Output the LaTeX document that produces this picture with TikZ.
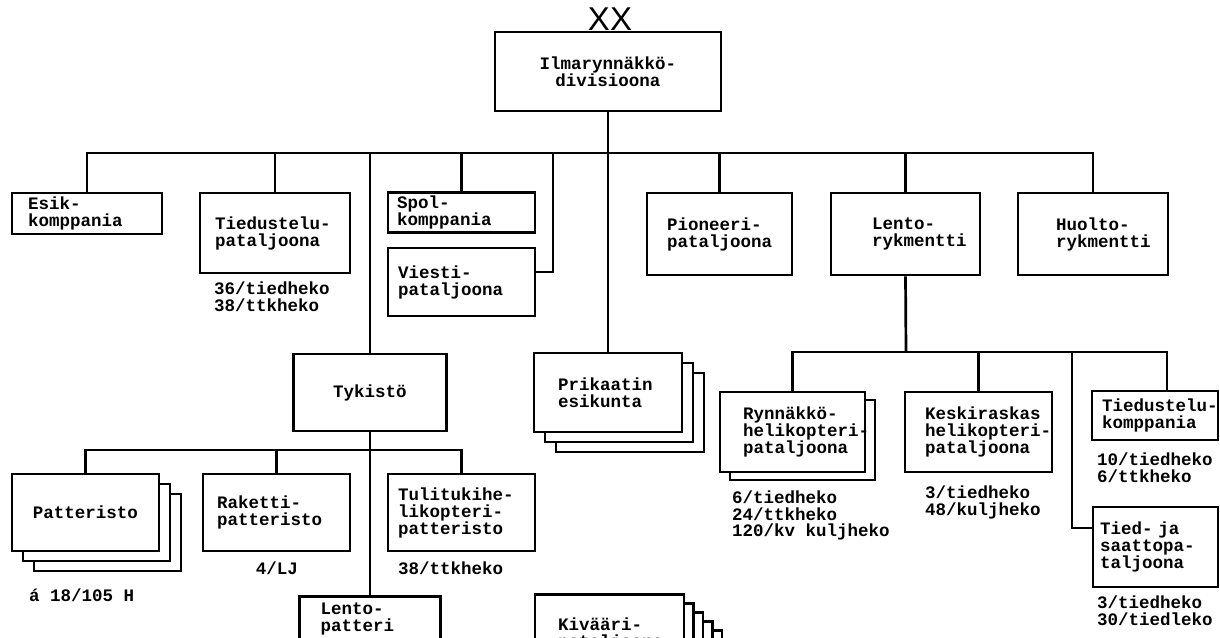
\documentclass[tikz,border=0pt]{standalone}
\usepackage{fontspec}
\setmonofont{Liberation Mono}
\newfontfamily\xxfont{Liberation Sans}
\usetikzlibrary{shadows}
\hyphenpenalty=10000
\exhyphenpenalty=10000
\setlength{\parindent}{0pt}
\tikzset{
  unit/.style={draw, line width=2.7pt, fill=white, align=left, inner ysep=3pt,
    font=\ttfamily\bfseries\fontsize{17.5}{17}\selectfont},
  note/.style={align=left, inner sep=0pt, anchor=north west,
    font=\ttfamily\bfseries\fontsize{17.5}{16.5}\selectfont},
  sheet/.style 2 args={copy shadow={shadow xshift=#1, shadow yshift=#2, draw=black, fill=white, line width=2.7pt}},
  link/.style={line width=2.7pt},
}
\begin{document}
\begin{tikzpicture}[x=1pt, y=-1pt]
  \clip (0,0) rectangle (1220,637);
  \fill[white] (0,0) rectangle (1220,637);

  % divisioona
  \node[unit, align=center, minimum width=226pt, minimum height=79pt] (div) at (608,71.5) {Ilmarynnäkkö-\\divisioona};
  \node[font=\xxfont\fontsize{33}{33}\selectfont, inner sep=0pt, anchor=base] (xx) at ([xshift=2pt]div.north) {XX};

  % first level
  \node[unit, minimum width=150pt, minimum height=41pt, inner xsep=16pt, text width=118pt] (esik) at (87,213.5) {Esik-\\komppania};
  \node[unit, minimum width=150pt, minimum height=80pt, inner xsep=15pt, text width=120pt] (tiedpat) at (275,233) {Tiedustelu-\\pataljoona};
  \node[unit, minimum width=147pt, minimum height=39pt, inner xsep=9pt, text width=129pt] (spol) at (461.5,212.5) {Spol-\\komppania};
  \node[unit, minimum width=147pt, minimum height=68pt, inner xsep=10pt, text width=127pt] (viesti) at (461.5,282) {Viesti-\\pataljoona};
  \node[unit, minimum width=145pt, minimum height=82pt, inner xsep=20pt, text width=105pt] (pion) at (719.5,234) {Pioneeri-\\pataljoona};
  \node[unit, minimum width=149pt, minimum height=82pt, inner xsep=41pt, text width=67pt] (lento) at (905.5,234) {Lento-\\rykmentti};
  \node[unit, minimum width=150pt, minimum height=82pt, inner xsep=38pt, text width=74pt] (huolto) at (1093,234) {Huolto-\\rykmentti};

  % tykisto and prikaatit
  \node[unit, minimum width=153pt, minimum height=77pt] (tyk) at (370,392.5) {Tykistö};
  \node[unit, sheet={22pt}{-20pt}, sheet={11pt}{-10pt}, minimum width=148pt, minimum height=79pt, inner xsep=24pt, text width=100pt] (prik) at (608,392.5) {Prikaatin\\esikunta};

  \node[unit, sheet={22pt}{-20pt}, sheet={11pt}{-10pt}, minimum width=147pt, minimum height=77pt] (patt) at (85.5,512.5) {Patteristo};
  \node[unit, minimum width=147pt, minimum height=77pt, inner xsep=14pt, text width=119pt] (rak) at (276.5,512.5) {Raketti-\\patteristo};
  \node[unit, minimum width=147pt, minimum height=77pt, inner xsep=10pt, text width=127pt] (tuli) at (461.5,512.5) {Tulitukihe-\\likopteri-\\patteristo};
  \node[unit, anchor=north, inner ysep=6pt, minimum width=141pt, inner xsep=21pt, text width=99pt] (lpatt) at (370,595) {Lento-\\patteri};
  \node[unit, anchor=north, sheet={38pt}{-36pt}, sheet={28.5pt}{-27pt}, sheet={19pt}{-18pt}, sheet={9.5pt}{-9pt}, minimum width=149pt, minimum height=80pt, inner xsep=23pt, text width=103pt] (kiv) at (609.5,593) {Kivääri-\\pataljoona};

  % lentorykmentti
  \node[unit, sheet={10pt}{-8pt}, minimum width=145pt, minimum height=80pt, inner xsep=23pt, text width=99pt] (ryn) at (792.5,432) {Rynnäkkö-\\helikopteri-\\pataljoona};
  \node[unit, minimum width=147pt, minimum height=80pt, inner xsep=20pt, text width=107pt] (kesk) at (978.5,432) {Keskiraskas\\helikopteri-\\pataljoona};
  \node[unit, minimum width=126pt, minimum height=49pt, inner xsep=10pt, text width=106pt] (tkomp) at (1155,415.5) {Tiedustelu-\\komppania};
  \node[unit, minimum width=125pt, minimum height=80pt, inner xsep=7pt, text width=111pt] (tsaat) at (1155.5,547) {Tied- ja\\saattopa-\\taljoona};

  % vahvuudet
  \node[note] (tiedpat-n) at (214,282) {36/tiedheko\\38/ttkheko};
  \node[note] (patt-n) at (29,589) {á 18/105 H};
  \node[note, anchor=north] (rak-n) at (277,562) {4/LJ};
  \node[note] (tuli-n) at (398,562) {38/ttkheko};
  \node[note] (ryn-n) at (732,491) {6/tiedheko\\24/ttkheko\\120/kv kuljheko};
  \node[note] (kesk-n) at (925,486) {3/tiedheko\\48/kuljheko};
  \node[note] (tkomp-n) at (1097,453) {10/tiedheko\\6/ttkheko};
  \node[note] (tsaat-n) at (1097,596) {3/tiedheko\\30/tiedleko};

  % connectors
  \coordinate (dbus) at (608,153);
  \coordinate (vtap) at (553,153);
  \coordinate (tbus) at (370,450);
  \coordinate (lbus) at (906,352);
  \coordinate (lbusr) at (1167,352);
  \coordinate (stap) at (1072,352);

  \draw[link] (div.south) -- (prik.north);
  \draw[link] (esik.north) -- (esik.north |- dbus) -- (huolto.north |- dbus) -- (huolto.north);
  \foreach \u in {tiedpat, spol, tyk, pion, lento}
    \draw[link] (\u.north) -- (\u.north |- dbus);
  \draw[link] (vtap) |- ([yshift=10pt]viesti.east);

  \draw[link] (tyk.south) -- (lpatt.north);
  \draw[link] (patt.north) -- (patt.north |- tbus) -- (tuli.north |- tbus) -- (tuli.north);
  \draw[link] (rak.north) -- (rak.north |- tbus);

  \draw[link] (lento.south) -- (lbus);
  \draw[link] (ryn.north) -- (ryn.north |- lbus) -- (lbusr) -- (lbusr |- tkomp.north);
  \draw[link] (kesk.north) -- (kesk.north |- lbus);
  \draw[link] (stap) |- ([yshift=19pt]tsaat.west);
\end{tikzpicture}
\end{document}
